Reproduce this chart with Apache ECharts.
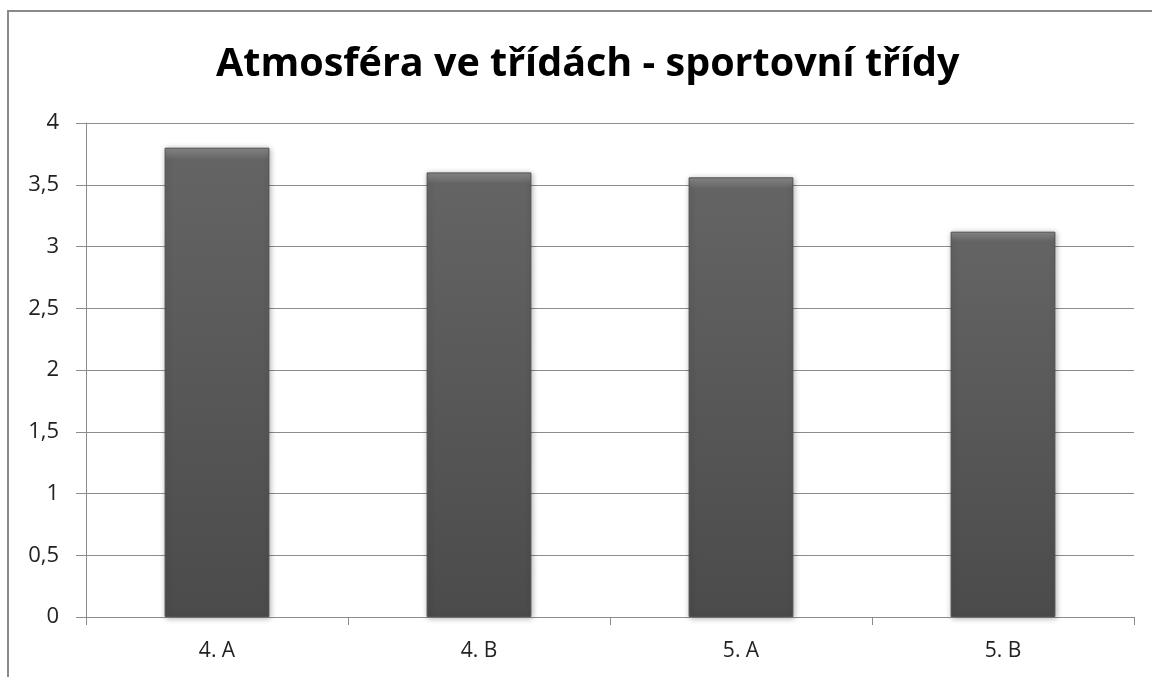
<!DOCTYPE html>
<html>
<head>
<meta charset="utf-8">
<script src="https://cdn.jsdelivr.net/npm/echarts@6/dist/echarts.min.js"></script>
<style>
  html, body { margin: 0; padding: 0; background: #fff; }
  #chart { width: 1152px; height: 677px; }
</style>
</head>
<body>
<div id="chart"></div>
<script>
// data
var categories = ['4. A', '4. B', '5. A', '5. B']
var values = [3.8, 3.6, 3.56, 3.12]
var yTicks = { min: 0, max: 4, interval: 0.5 }

var myChart = echarts.init(document.getElementById('chart'))

myChart.setOption({
  animation: false,
  title: {
    text: 'Atmosféra ve třídách - sportovní třídy',
    left: 211,
    top: 40,
    textStyle: { fontFamily: 'Open Sans', fontWeight: 'bold', fontSize: 39.5, color: '#000' }
  },
  graphic: [{
    type: 'rect',
    shape: { x: 8, y: 11, width: 1200, height: 700 },
    style: { fill: 'none', stroke: '#8a8a8a', lineWidth: 2 },
    silent: true
  }],
  grid: { left: 86, right: 18, top: 123, bottom: 60 },
  xAxis: {
    type: 'category',
    data: categories,
    axisLine: { lineStyle: { color: '#8c8c8c' } },
    axisTick: { show: true, length: 8, lineStyle: { color: '#8c8c8c' } },
    axisLabel: { fontFamily: 'Open Sans', fontSize: 21, color: '#222', margin: 24 }
  },
  yAxis: {
    type: 'value',
    min: yTicks.min,
    max: yTicks.max,
    interval: yTicks.interval,
    axisLine: { show: true, lineStyle: { color: '#8c8c8c' } },
    axisTick: { show: true, length: 10, lineStyle: { color: '#8c8c8c' } },
    splitLine: { lineStyle: { color: '#8c8c8c' } },
    axisLabel: {
      fontFamily: 'Open Sans', fontSize: 22, color: '#222', margin: 27,
      formatter: function (v) { return String(v).replace('.', ',') }
    }
  },
  series: [{
    type: 'bar',
    data: values,
    barWidth: '40%',
    itemStyle: {
      color: new echarts.graphic.LinearGradient(0, 0, 0, 1, [
        { offset: 0, color: '#8a8a8a' },
        { offset: 0.025, color: '#646464' },
        { offset: 1, color: '#4b4b4b' }
      ]),
      borderColor: '#505050',
      borderWidth: 1,
      shadowColor: 'rgba(0,0,0,0.3)',
      shadowBlur: 6,
      shadowOffsetX: 1,
      shadowOffsetY: 1
    }
  }]
})
</script>
</body>
</html>
